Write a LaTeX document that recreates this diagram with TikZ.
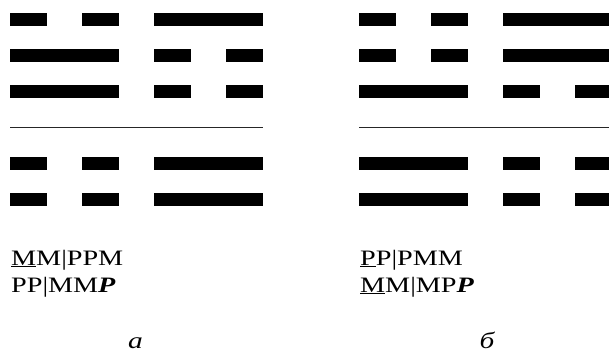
\documentclass[tikz,border=0pt]{standalone}
\usepackage{fontspec}
\setmainfont{Liberation Serif}[FakeStretch=1.28]
\begin{document}
\begin{tikzpicture}[x=1pt,y=-1pt,
  barfill/.style={fill=black},
  sep/.style={line width=1.2pt,draw=black!85},
  code/.style={font=\fontsize{22}{26}\selectfont,inner sep=0pt,anchor=base west},
  captext/.style={font=\fontsize{23}{26}\selectfont\itshape,inner sep=0pt,anchor=base}]
\useasboundingbox (0,0) rectangle (609,353);
\newcommand{\yangbar}[2]{\fill[barfill] (#1,#2-6.5) rectangle (#1+109,#2+6.5);}
\newcommand{\yinbar}[2]{\fill[barfill] (#1,#2-6.5) rectangle (#1+37,#2+6.5);
  \fill[barfill] (#1+72,#2-6.5) rectangle (#1+109,#2+6.5);}
% left figure
\yinbar{10}{19.5}  \yangbar{154}{19.5}
\yangbar{10}{55.5} \yinbar{154}{55.5}
\yangbar{10}{91.5} \yinbar{154}{91.5}
\coordinate (l1) at (10,127.7); \coordinate (l2) at (263,127.7);
\draw[sep] (l1) -- (l2);
\yinbar{10}{163.5} \yangbar{154}{163.5}
\yinbar{10}{199.5} \yangbar{154}{199.5}
% right figure
\yinbar{359}{19.5}  \yangbar{503}{19.5}
\yinbar{359}{55.5}  \yangbar{503}{55.5}
\yangbar{359}{91.5} \yinbar{503}{91.5}
\coordinate (r1) at (359,127.7); \coordinate (r2) at (612,127.7);
\draw[sep] (r1) -- (r2);
\yangbar{359}{163.5} \yinbar{503}{163.5}
\yangbar{359}{199.5} \yinbar{503}{199.5}
% texts
\node[code] (ta1) at (11,265) {\underline{M}M|PPM};
\node[code] (ta2) at (11,292) {PP|MM\textbf{\textit{P}}};
\node[code] (tb1) at (360,265) {\underline{P}P|PMM};
\node[code] (tb2) at (360,292) {\underline{M}M|MP\textbf{\textit{P}}};
\node[captext] (ca) at (135.5,348) {а};
\node[captext] (cb) at (487,348) {б};
\end{tikzpicture}
\end{document}
